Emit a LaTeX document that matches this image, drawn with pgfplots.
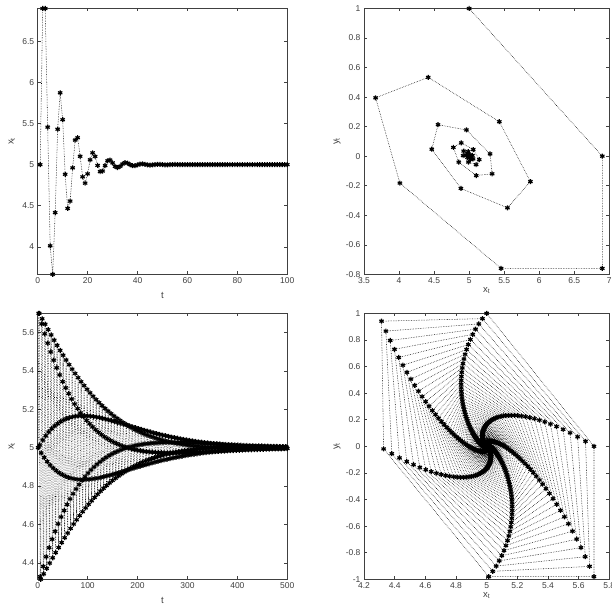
\documentclass[border=0pt]{standalone}
\usepackage{fontspec}
\setmainfont{Liberation Sans}
\usepackage{pgfplots}
\usepackage{pgfplotstable}
\pgfplotsset{compat=1.18}

% upper pair: fast spiral, 100 steps
\pgfplotstableread[row sep=\\]{
t x y\\
1 5.0000 1.0000\\ 2 6.9000 0.0000\\ 3 6.9000 -0.7600\\ 4 5.4560 -0.7600\\ 5 4.0120 -0.1824\\
6 3.6654 0.3952\\ 7 4.4163 0.5338\\ 8 5.4306 0.2335\\ 9 5.8742 -0.1722\\ 10 5.5469 -0.3497\\
11 4.8826 -0.2188\\ 12 4.4669 0.0470\\ 13 4.5561 0.2132\\ 14 4.9613 0.1775\\ 15 5.2986 0.0155\\
16 5.3280 -0.1195\\ 17 5.1011 -0.1312\\ 18 4.8518 -0.0404\\ 19 4.7749 0.0593\\ 20 4.8876 0.0900\\
21 5.0586 0.0450\\ 22 5.1441 -0.0235\\ 23 5.0995 -0.0576\\ 24 4.9900 -0.0398\\ 25 4.9144 0.0040\\
26 4.9220 0.0342\\ 27 4.9870 0.0312\\ 28 5.0463 0.0052\\ 29 5.0562 -0.0185\\ 30 5.0210 -0.0225\\
31 4.9783 -0.0084\\ 32 4.9623 0.0087\\ 33 4.9789 0.0151\\ 34 5.0075 0.0085\\ 35 5.0236 -0.0030\\
36 5.0179 -0.0094\\ 37 5.0000 -0.0071\\ 38 4.9864 0.0000\\ 39 4.9864 0.0054\\ 40 4.9968 0.0054\\
41 5.0071 0.0013\\ 42 5.0095 -0.0028\\ 43 5.0042 -0.0038\\ 44 4.9969 -0.0017\\ 45 4.9937 0.0012\\
46 4.9961 0.0025\\ 47 5.0009 0.0016\\ 48 5.0038 -0.0003\\ 49 5.0032 -0.0015\\ 50 5.0003 -0.0013\\
51 4.9979 -0.0001\\ 52 4.9977 0.0008\\ 53 4.9993 0.0009\\ 54 5.0011 0.0003\\ 55 5.0017 -0.0004\\
56 5.0009 -0.0007\\ 57 4.9996 -0.0004\\ 58 5.0000 0.0000\\ 59 5.0000 0.0000\\ 60 5.0000 0.0000\\
61 5.0000 0.0000\\ 62 5.0000 0.0000\\ 63 5.0000 0.0000\\ 64 5.0000 0.0000\\ 65 5.0000 0.0000\\
66 5.0000 0.0000\\ 67 5.0000 0.0000\\ 68 5.0000 0.0000\\ 69 5.0000 0.0000\\ 70 5.0000 0.0000\\
71 5.0000 0.0000\\ 72 5.0000 0.0000\\ 73 5.0000 0.0000\\ 74 5.0000 0.0000\\ 75 5.0000 0.0000\\
76 5.0000 0.0000\\ 77 5.0000 0.0000\\ 78 5.0000 0.0000\\ 79 5.0000 0.0000\\ 80 5.0000 0.0000\\
81 5.0000 0.0000\\ 82 5.0000 0.0000\\ 83 5.0000 0.0000\\ 84 5.0000 0.0000\\ 85 5.0000 0.0000\\
86 5.0000 0.0000\\ 87 5.0000 0.0000\\ 88 5.0000 0.0000\\ 89 5.0000 0.0000\\ 90 5.0000 0.0000\\
91 5.0000 0.0000\\ 92 5.0000 0.0000\\ 93 5.0000 0.0000\\ 94 5.0000 0.0000\\ 95 5.0000 0.0000\\
96 5.0000 0.0000\\ 97 5.0000 0.0000\\ 98 5.0000 0.0000\\ 99 5.0000 0.0000\\ 100 5.0000 0.0000\\
}\fastdata

% lower pair: slow spiral, 500 steps
\pgfplotstableread[row sep=\\]{
t x y\\
1 5.0000 1.0000\\ 2 5.7000 0.0000\\ 3 5.7000 -0.9800\\ 4 5.0140 -0.9800\\ 5 4.3280 -0.0196\\
6 4.3143 0.9408\\ 7 4.9729 0.9600\\ 8 5.6449 0.0379\\ 9 5.6715 -0.9029\\ 10 5.0395 -0.9401\\
11 4.3814 -0.0553\\ 12 4.3427 0.8660\\ 13 4.9489 0.9202\\ 14 5.5931 0.0715\\ 15 5.6432 -0.8303\\
16 5.0620 -0.9005\\ 17 4.4317 -0.0868\\ 18 4.3709 0.7956\\ 19 4.9278 0.8807\\ 20 5.5443 0.1011\\
21 5.6151 -0.7620\\ 22 5.0817 -0.8611\\ 23 4.4789 -0.1144\\ 24 4.3988 0.7295\\ 25 4.9095 0.8417\\
26 5.4987 0.1267\\ 27 5.5874 -0.6982\\ 28 5.0987 -0.8224\\ 29 4.5230 -0.1382\\ 30 4.4263 0.6678\\
31 4.8938 0.8032\\ 32 5.4560 0.1487\\ 33 5.5601 -0.6384\\ 34 5.1132 -0.7841\\ 35 4.5643 -0.1585\\
36 4.4534 0.6100\\ 37 4.8804 0.7652\\ 38 5.4161 0.1674\\ 39 5.5333 -0.5825\\ 40 5.1255 -0.7466\\
41 4.6029 -0.1757\\ 42 4.4799 0.5559\\ 43 4.8691 0.7281\\ 44 5.3788 0.1833\\ 45 5.5071 -0.5303\\
46 5.1359 -0.7099\\ 47 4.6389 -0.1903\\ 48 4.5057 0.5055\\ 49 4.8596 0.6920\\ 50 5.3440 0.1966\\
51 5.4816 -0.4816\\ 52 5.1445 -0.6742\\ 53 4.6725 -0.2023\\ 54 4.5309 0.4585\\ 55 4.8519 0.6567\\
56 5.3116 0.2073\\ 57 5.4567 -0.4362\\ 58 5.1513 -0.6394\\ 59 4.7037 -0.2118\\ 60 4.5554 0.4148\\
61 4.8458 0.6224\\ 62 5.2815 0.2159\\ 63 5.4326 -0.3941\\ 64 5.1567 -0.6056\\ 65 4.7328 -0.2194\\
66 4.5792 0.3741\\ 67 4.8411 0.5891\\ 68 5.2535 0.2225\\ 69 5.4092 -0.3549\\ 70 5.1608 -0.5729\\
71 4.7598 -0.2251\\ 72 4.6022 0.3363\\ 73 4.8376 0.5569\\ 74 5.2274 0.2274\\ 75 5.3866 -0.3184\\
76 5.1637 -0.5412\\ 77 4.7848 -0.2292\\ 78 4.6244 0.3013\\ 79 4.8353 0.5258\\ 80 5.2034 0.2306\\
81 5.3648 -0.2848\\ 82 5.1655 -0.5107\\ 83 4.8080 -0.2317\\ 84 4.6458 0.2688\\ 85 4.8340 0.4959\\
86 5.1811 0.2324\\ 87 5.3438 -0.2535\\ 88 5.1663 -0.4813\\ 89 4.8294 -0.2328\\ 90 4.6664 0.2388\\
91 4.8336 0.4670\\ 92 5.1605 0.2330\\ 93 5.3236 -0.2247\\ 94 5.1663 -0.4530\\ 95 4.8492 -0.2328\\
96 4.6862 0.2111\\ 97 4.8340 0.4393\\ 98 5.1415 0.2324\\ 99 5.3042 -0.1981\\ 100 5.1655 -0.4259\\
101 4.8674 -0.2317\\ 102 4.7052 0.1856\\ 103 4.8351 0.4127\\ 104 5.1240 0.2309\\ 105 5.2856 -0.1736\\
106 5.1641 -0.3998\\ 107 4.8842 -0.2297\\ 108 4.7234 0.1621\\ 109 4.8369 0.3872\\ 110 5.1080 0.2283\\
111 5.2678 -0.1512\\ 112 5.1620 -0.3749\\ 113 4.8996 -0.2268\\ 114 4.7408 0.1406\\ 115 4.8392 0.3629\\
116 5.0932 0.2251\\ 117 5.2508 -0.1305\\ 118 5.1595 -0.3511\\ 119 4.9137 -0.2233\\ 120 4.7574 0.1208\\
121 4.8420 0.3396\\ 122 5.0797 0.2212\\ 123 5.2345 -0.1116\\ 124 5.1564 -0.3283\\ 125 4.9266 -0.2190\\
126 4.7733 0.1028\\ 127 4.8452 0.3174\\ 128 5.0674 0.2167\\ 129 5.2191 -0.0944\\ 130 5.1530 -0.3067\\
131 4.9383 -0.2142\\ 132 4.7884 0.0864\\ 133 4.8489 0.2962\\ 134 5.0563 0.2115\\ 135 5.2044 -0.0788\\
136 5.1492 -0.2862\\ 137 4.9489 -0.2089\\ 138 4.8027 0.0715\\ 139 4.8528 0.2762\\ 140 5.0462 0.2061\\
141 5.1905 -0.0647\\ 142 5.1452 -0.2667\\ 143 4.9585 -0.2033\\ 144 4.8162 0.0581\\ 145 4.8569 0.2573\\
146 5.0370 0.2003\\ 147 5.1772 -0.0518\\ 148 5.1409 -0.2481\\ 149 4.9672 -0.1973\\ 150 4.8291 0.0459\\
151 4.8612 0.2393\\ 152 5.0287 0.1943\\ 153 5.1647 -0.0402\\ 154 5.1366 -0.2306\\ 155 4.9752 -0.1912\\
156 4.8413 0.0347\\ 157 4.8656 0.2222\\ 158 5.0211 0.1882\\ 159 5.1528 -0.0295\\ 160 5.1321 -0.2139\\
161 4.9824 -0.1849\\ 162 4.8529 0.0246\\ 163 4.8701 0.2059\\ 164 5.0143 0.1819\\ 165 5.1416 -0.0200\\
166 5.1276 -0.1982\\ 167 4.9888 -0.1786\\ 168 4.8638 0.0157\\ 169 4.8748 0.1907\\ 170 5.0083 0.1753\\
171 5.1310 -0.0116\\ 172 5.1229 -0.1834\\ 173 4.9945 -0.1721\\ 174 4.8741 0.0077\\ 175 4.8795 0.1763\\
176 5.0029 0.1687\\ 177 5.1210 -0.0041\\ 178 5.1182 -0.1694\\ 179 4.9996 -0.1655\\ 180 4.8838 0.0006\\
181 4.8842 0.1627\\ 182 4.9981 0.1621\\ 183 5.1116 0.0027\\ 184 5.1135 -0.1562\\ 185 5.0041 -0.1589\\
186 4.8929 -0.0057\\ 187 4.8889 0.1499\\ 188 4.9939 0.1555\\ 189 5.1028 0.0085\\ 190 5.1088 -0.1439\\
191 5.0081 -0.1523\\ 192 4.9015 -0.0113\\ 193 4.8936 0.1379\\ 194 4.9901 0.1490\\ 195 5.0944 0.0139\\
196 5.1041 -0.1322\\ 197 5.0116 -0.1457\\ 198 4.9096 -0.0162\\ 199 4.8982 0.1266\\ 200 4.9868 0.1425\\
201 5.0866 0.0185\\ 202 5.0995 -0.1212\\ 203 5.0146 -0.1393\\ 204 4.9171 -0.0204\\ 205 4.9028 0.1161\\
206 4.9840 0.1361\\ 207 5.0793 0.0224\\ 208 5.0950 -0.1110\\ 209 5.0173 -0.1330\\ 210 4.9242 -0.0242\\
211 4.9072 0.1061\\ 212 4.9815 0.1299\\ 213 5.0724 0.0259\\ 214 5.0905 -0.1014\\ 215 5.0195 -0.1267\\
216 4.9308 -0.0273\\ 217 4.9117 0.0969\\ 218 4.9795 0.1236\\ 219 5.0660 0.0287\\ 220 5.0861 -0.0924\\
221 5.0214 -0.1205\\ 222 4.9370 -0.0300\\ 223 4.9160 0.0882\\ 224 4.9777 0.1176\\ 225 5.0600 0.0312\\
226 5.0819 -0.0840\\ 227 5.0231 -0.1147\\ 228 4.9428 -0.0323\\ 229 4.9202 0.0801\\ 230 4.9763 0.1117\\
231 5.0545 0.0332\\ 232 5.0777 -0.0763\\ 233 5.0243 -0.1088\\ 234 4.9482 -0.0340\\ 235 4.9244 0.0725\\
236 4.9752 0.1058\\ 237 5.0493 0.0347\\ 238 5.0736 -0.0690\\ 239 5.0253 -0.1030\\ 240 4.9532 -0.0354\\
241 4.9284 0.0655\\ 242 4.9743 0.1002\\ 243 5.0445 0.0360\\ 244 5.0697 -0.0623\\ 245 5.0261 -0.0976\\
246 4.9578 -0.0365\\ 247 4.9322 0.0591\\ 248 4.9736 0.0949\\ 249 5.0400 0.0370\\ 250 5.0659 -0.0560\\
251 5.0267 -0.0923\\ 252 4.9621 -0.0374\\ 253 4.9359 0.0531\\ 254 4.9730 0.0897\\ 255 5.0358 0.0378\\
256 5.0623 -0.0501\\ 257 5.0272 -0.0872\\ 258 4.9661 -0.0381\\ 259 4.9394 0.0475\\ 260 4.9726 0.0848\\
261 5.0320 0.0384\\ 262 5.0589 -0.0448\\ 263 5.0275 -0.0825\\ 264 4.9698 -0.0385\\ 265 4.9429 0.0423\\
266 4.9725 0.0799\\ 267 5.0285 0.0385\\ 268 5.0555 -0.0399\\ 269 5.0276 -0.0777\\ 270 4.9732 -0.0386\\
271 4.9462 0.0375\\ 272 4.9725 0.0753\\ 273 5.0252 0.0385\\ 274 5.0522 -0.0353\\ 275 5.0275 -0.0731\\
276 4.9763 -0.0385\\ 277 4.9494 0.0332\\ 278 4.9726 0.0708\\ 279 5.0222 0.0384\\ 280 5.0491 -0.0311\\
281 5.0273 -0.0687\\ 282 4.9792 -0.0382\\ 283 4.9524 0.0291\\ 284 4.9728 0.0666\\ 285 5.0194 0.0381\\
286 5.0461 -0.0272\\ 287 5.0271 -0.0645\\ 288 4.9819 -0.0379\\ 289 4.9553 0.0253\\ 290 4.9730 0.0626\\
291 5.0168 0.0378\\ 292 5.0433 -0.0235\\ 293 5.0268 -0.0606\\ 294 4.9844 -0.0375\\ 295 4.9581 0.0218\\
296 4.9734 0.0587\\ 297 5.0145 0.0372\\ 298 5.0406 -0.0203\\ 299 5.0264 -0.0568\\ 300 4.9866 -0.0370\\
301 4.9607 0.0188\\ 302 4.9738 0.0550\\ 303 5.0123 0.0367\\ 304 5.0380 -0.0172\\ 305 5.0259 -0.0532\\
306 4.9887 -0.0363\\ 307 4.9633 0.0158\\ 308 4.9744 0.0514\\ 309 5.0104 0.0358\\ 310 5.0355 -0.0146\\
311 5.0253 -0.0497\\ 312 4.9905 -0.0354\\ 313 4.9657 0.0133\\ 314 4.9750 0.0480\\ 315 5.0086 0.0350\\
316 5.0331 -0.0120\\ 317 5.0247 -0.0463\\ 318 4.9923 -0.0346\\ 319 4.9681 0.0108\\ 320 4.9756 0.0447\\
321 5.0069 0.0342\\ 322 5.0308 -0.0097\\ 323 5.0240 -0.0431\\ 324 4.9938 -0.0336\\ 325 4.9703 0.0087\\
326 4.9764 0.0416\\ 327 5.0055 0.0330\\ 328 5.0286 -0.0077\\ 329 5.0232 -0.0400\\ 330 4.9952 -0.0325\\
331 4.9725 0.0067\\ 332 4.9772 0.0385\\ 333 5.0042 0.0319\\ 334 5.0265 -0.0059\\ 335 5.0224 -0.0371\\
336 4.9964 -0.0314\\ 337 4.9744 0.0050\\ 338 4.9779 0.0358\\ 339 5.0030 0.0309\\ 340 5.0247 -0.0042\\
341 5.0218 -0.0346\\ 342 4.9976 -0.0305\\ 343 4.9762 0.0034\\ 344 4.9786 0.0333\\ 345 5.0019 0.0300\\
346 5.0229 -0.0027\\ 347 5.0210 -0.0321\\ 348 4.9986 -0.0294\\ 349 4.9780 0.0020\\ 350 4.9794 0.0308\\
351 5.0010 0.0288\\ 352 5.0212 -0.0014\\ 353 5.0202 -0.0297\\ 354 4.9994 -0.0283\\ 355 4.9796 0.0008\\
356 4.9802 0.0286\\ 357 5.0002 0.0277\\ 358 5.0196 -0.0003\\ 359 5.0194 -0.0274\\ 360 5.0002 -0.0272\\
361 4.9812 -0.0003\\ 362 4.9810 0.0263\\ 363 4.9994 0.0266\\ 364 5.0180 0.0008\\ 365 5.0186 -0.0252\\
366 5.0010 -0.0260\\ 367 4.9828 -0.0014\\ 368 4.9818 0.0241\\ 369 4.9987 0.0255\\ 370 5.0165 0.0018\\
371 5.0178 -0.0231\\ 372 5.0016 -0.0249\\ 373 4.9842 -0.0022\\ 374 4.9826 0.0221\\ 375 4.9981 0.0244\\
376 5.0152 0.0027\\ 377 5.0171 -0.0213\\ 378 5.0022 -0.0239\\ 379 4.9854 -0.0031\\ 380 4.9832 0.0204\\
381 4.9975 0.0235\\ 382 5.0140 0.0035\\ 383 5.0164 -0.0196\\ 384 5.0027 -0.0230\\ 385 4.9866 -0.0038\\
386 4.9840 0.0188\\ 387 4.9971 0.0224\\ 388 5.0128 0.0041\\ 389 5.0156 -0.0179\\ 390 5.0031 -0.0218\\
391 4.9878 -0.0043\\ 392 4.9848 0.0171\\ 393 4.9968 0.0213\\ 394 5.0117 0.0045\\ 395 5.0148 -0.0164\\
396 5.0033 -0.0207\\ 397 4.9888 -0.0046\\ 398 4.9856 0.0157\\ 399 4.9966 0.0202\\ 400 5.0107 0.0048\\
401 5.0140 -0.0150\\ 402 5.0035 -0.0196\\ 403 4.9898 -0.0049\\ 404 4.9864 0.0143\\ 405 4.9964 0.0190\\
406 5.0097 0.0050\\ 407 5.0132 -0.0136\\ 408 5.0037 -0.0185\\ 409 4.9908 -0.0052\\ 410 4.9872 0.0129\\
411 4.9962 0.0179\\ 412 5.0087 0.0053\\ 413 5.0124 -0.0122\\ 414 5.0039 -0.0174\\ 415 4.9917 -0.0055\\
416 4.9879 0.0116\\ 417 4.9960 0.0169\\ 418 5.0079 0.0056\\ 419 5.0118 -0.0111\\ 420 5.0041 -0.0165\\
421 4.9925 -0.0057\\ 422 4.9885 0.0105\\ 423 4.9958 0.0161\\ 424 5.0071 0.0059\\ 425 5.0112 -0.0099\\
426 5.0042 -0.0157\\ 427 4.9932 -0.0059\\ 428 4.9891 0.0095\\ 429 4.9958 0.0153\\ 430 5.0065 0.0059\\
431 5.0106 -0.0091\\ 432 5.0042 -0.0148\\ 433 4.9938 -0.0059\\ 434 4.9897 0.0087\\ 435 4.9958 0.0144\\
436 5.0059 0.0059\\ 437 5.0100 -0.0083\\ 438 5.0042 -0.0140\\ 439 4.9944 -0.0059\\ 440 4.9903 0.0078\\
441 4.9958 0.0136\\ 442 5.0053 0.0059\\ 443 5.0094 -0.0074\\ 444 5.0042 -0.0132\\ 445 4.9950 -0.0059\\
446 4.9909 0.0070\\ 447 4.9958 0.0127\\ 448 5.0047 0.0059\\ 449 5.0088 -0.0066\\ 450 5.0042 -0.0123\\
451 4.9956 -0.0059\\ 452 4.9915 0.0062\\ 453 4.9958 0.0119\\ 454 5.0041 0.0059\\ 455 5.0082 -0.0057\\
456 5.0042 -0.0115\\ 457 4.9962 -0.0059\\ 458 4.9921 0.0053\\ 459 4.9958 0.0111\\ 460 5.0035 0.0059\\
461 5.0076 -0.0049\\ 462 5.0042 -0.0106\\ 463 4.9968 -0.0059\\ 464 4.9927 0.0045\\ 465 4.9958 0.0102\\
466 5.0030 0.0059\\ 467 5.0071 -0.0042\\ 468 5.0042 -0.0099\\ 469 4.9972 -0.0059\\ 470 4.9931 0.0039\\
471 4.9958 0.0097\\ 472 5.0026 0.0059\\ 473 5.0067 -0.0036\\ 474 5.0042 -0.0094\\ 475 4.9976 -0.0059\\
476 4.9935 0.0034\\ 477 4.9959 0.0091\\ 478 5.0023 0.0057\\ 479 5.0063 -0.0032\\ 480 5.0040 -0.0088\\
481 4.9978 -0.0056\\ 482 4.9939 0.0031\\ 483 4.9961 0.0085\\ 484 5.0021 0.0055\\ 485 5.0059 -0.0029\\
486 5.0038 -0.0083\\ 487 4.9980 -0.0053\\ 488 4.9943 0.0028\\ 489 4.9963 0.0080\\ 490 5.0019 0.0052\\
491 5.0055 -0.0027\\ 492 5.0036 -0.0077\\ 493 4.9982 -0.0050\\ 494 4.9947 0.0025\\ 495 4.9965 0.0074\\
496 5.0017 0.0049\\ 497 5.0051 -0.0024\\ 498 5.0034 -0.0071\\ 499 4.9984 -0.0048\\ 500 4.9951 0.0022\\
}\slowdata

\definecolor{axgray}{gray}{0.25}

\pgfplotsset{
  mlab/.style={
    scale only axis, clip=false, anchor=south west,
    axis line style={axgray, line width=0.5pt},
    tick align=inside, major tick length=3pt,
    every tick/.style={axgray, line width=0.5pt},
    ticklabel style={font=\fontsize{8.5}{9}\selectfont, text=axgray},
    label style={font=\fontsize{9.5}{10}\selectfont, text=axgray},
    /pgf/number format/assume math mode=true,
    /pgf/number format/fixed,
    y label style={anchor=center},
  },
  traj/.style={
    black, line width=0.55pt, dash pattern=on 0.55pt off 1.1pt,
    mark=asterisk, mark size=2.5pt,
    mark options={solid, line width=1.2pt, black},
  },
}

\begin{document}
\begin{tikzpicture}

% top left: x_t against t
\begin{axis}[mlab, at={(37.7pt,335.7pt)},
  width=249.6pt, height=265.8pt,
  xmin=0, xmax=100, ymin=3.6654, ymax=6.9,
  xtick={0,20,40,60,80,100}, ytick={4,4.5,5,5.5,6,6.5},
  xlabel={t}, ylabel={x\textsubscript{t}},
  x label style={at={(axis description cs:0.5,-0.09)}, anchor=base},
  y label style={at={(axis description cs:-0.104,0.5)}},
]
\addplot[traj] table[x=t, y=x]{\fastdata};
\end{axis}

% top right: phase plane
\begin{axis}[mlab, at={(364pt,335.7pt)},
  width=245.3pt, height=265.8pt,
  xmin=3.5, xmax=7, ymin=-0.8, ymax=1,
  xtick={3.5,4,4.5,5,5.5,6,6.5,7},
  ytick={-0.8,-0.6,-0.4,-0.2,0,0.2,0.4,0.6,0.8,1},
  xlabel={x\textsubscript{t}}, ylabel={y\textsubscript{t}},
  x label style={at={(axis description cs:0.5,-0.068)}, anchor=base},
  y label style={at={(axis description cs:-0.11,0.5)}},
]
\addplot[traj] table[x=x, y=y]{\fastdata};
\end{axis}

% bottom left: x_t against t
\begin{axis}[mlab, at={(37.7pt,30.7pt)},
  width=249.6pt, height=266pt,
  xmin=0, xmax=500, ymin=4.3143, ymax=5.7,
  xtick={0,100,200,300,400,500}, ytick={4.4,4.6,4.8,5,5.2,5.4,5.6},
  xlabel={t}, ylabel={x\textsubscript{t}},
  x label style={at={(axis description cs:0.5,-0.09)}, anchor=base},
  y label style={at={(axis description cs:-0.104,0.5)}},
]
\addplot[traj] table[x=t, y=x]{\slowdata};
\end{axis}

% bottom right: phase plane
\begin{axis}[mlab, at={(364pt,30.7pt)},
  width=245.3pt, height=266pt,
  xmin=4.2, xmax=5.8, ymin=-1, ymax=1,
  xtick={4.2,4.4,4.6,4.8,5,5.2,5.4,5.6,5.8},
  ytick={-1,-0.8,-0.6,-0.4,-0.2,0,0.2,0.4,0.6,0.8,1},
  xlabel={x\textsubscript{t}}, ylabel={y\textsubscript{t}},
  x label style={at={(axis description cs:0.5,-0.068)}, anchor=base},
  y label style={at={(axis description cs:-0.11,0.5)}},
]
\addplot[traj] table[x=x, y=y]{\slowdata};
\end{axis}

\pgfresetboundingbox
\useasboundingbox (0pt,0pt) rectangle (612pt,610pt);
\end{tikzpicture}
\end{document}
